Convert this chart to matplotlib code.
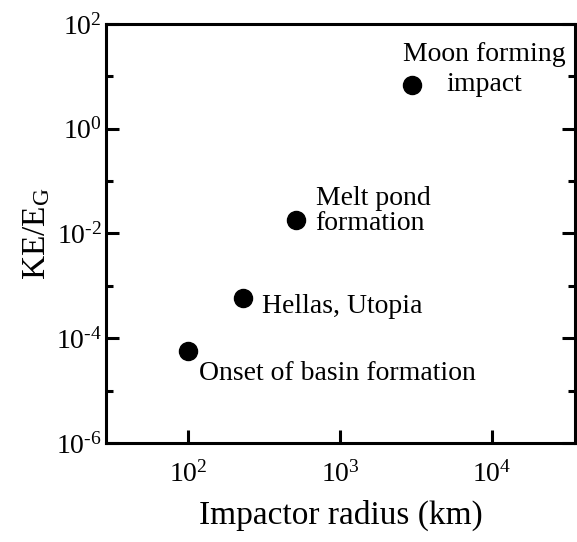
import math
import matplotlib
matplotlib.use("Agg")
import matplotlib.pyplot as plt
from matplotlib.ticker import FixedLocator, FuncFormatter, NullLocator, NullFormatter

plt.rcParams['font.family'] = ['Liberation Serif', 'DejaVu Serif']
plt.rcParams['mathtext.fontset'] = 'custom'
plt.rcParams['mathtext.rm'] = 'Liberation Serif'
plt.rcParams['mathtext.it'] = 'Liberation Serif:italic'

# data
radius_km = [100, 230, 515, 2970]
ke_over_eg = [5.7e-5, 5.9e-4, 1.8e-2, 6.9]
labels = ["Onset of basin formation", "Hellas, Utopia", "Melt pond\nformation", "Moon forming\nimpact"]
# label offsets from each point (points), alignment, line spacing
offsets = [(8, -16), (14, -6.5), (14, 6.5), (52, 11)]
aligns = ["left", "left", "left", "center"]
spacings = [1.0, 1.0, 0.98, 1.22]

x_ticks = [1e2, 1e3, 1e4]
y_major = [1e-6, 1e-4, 1e-2, 1e0, 1e2]
y_minor = [1e-5, 1e-3, 1e-1, 1e1]

fig = plt.figure(figsize=(5.77, 5.42), dpi=100)
ax = fig.add_axes([0.184, 0.1827, 0.8125, 0.773])

ax.plot(radius_km, ke_over_eg, 'o', color='black', markersize=13, linestyle='none')

for x, y, lab, off, ha, ls in zip(radius_km, ke_over_eg, labels, offsets, aligns, spacings):
    ax.annotate(lab, (x, y), xytext=off, textcoords='offset points',
                ha=ha, va='center', multialignment=ha, fontsize=20, linespacing=ls)

ax.set_xscale('log')
ax.set_yscale('log')
ax.set_xlim(29, 35000)
ax.set_ylim(1e-6, 1e2)

def sci(v, pos):
    e = int(round(math.log10(v)))
    return r'$\mathrm{10}^{\text{%d}}$' % e

ax.xaxis.set_major_locator(FixedLocator(x_ticks))
ax.xaxis.set_minor_locator(NullLocator())
ax.xaxis.set_major_formatter(FuncFormatter(sci))
ax.yaxis.set_major_locator(FixedLocator(y_major))
ax.yaxis.set_minor_locator(FixedLocator(y_minor))
ax.yaxis.set_major_formatter(FuncFormatter(sci))
ax.yaxis.set_minor_formatter(NullFormatter())

for s in ax.spines.values():
    s.set_linewidth(2.2)

ax.tick_params(axis='x', which='major', direction='in', length=9.5, width=2.2,
               top=False, labelsize=20, pad=13)
ax.tick_params(axis='y', which='major', direction='in', length=9.5, width=2.2,
               right=True, labelsize=20, pad=3)
ax.tick_params(axis='y', which='minor', direction='in', length=5, width=2.2, right=True)

ax.set_xlabel("Impactor radius (km)", fontsize=24, labelpad=9)
ax.set_ylabel(r"KE/E$_{\mathrm{G}}$", fontsize=24, labelpad=3)

fig.savefig("out.png", dpi=100)
